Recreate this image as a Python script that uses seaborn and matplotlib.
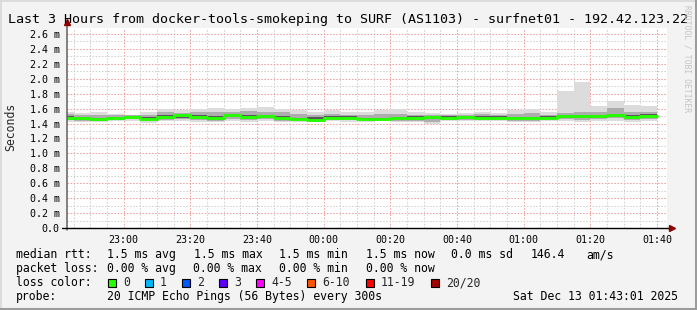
import matplotlib
matplotlib.use("Agg")
import matplotlib.pyplot as plt
from matplotlib.patches import Rectangle
from matplotlib.lines import Line2D
import pandas as pd
import seaborn as sns

# ---------------- data ----------------
title = "Last 3 Hours from docker-tools-smokeping to SURF (AS1103) - surfnet01 - 192.42.123.22"
# step edges, minutes relative to 23:00 (graph starts 22:43:01; 5-minute steps up to 01:40)
step_edges = [-16.98] + list(range(-15, 161, 5))

smoke_max = [1.56, 1.54, 1.55, 1.53, 1.52, 1.55, 1.59, 1.58, 1.60, 1.61, 1.59, 1.61,
             1.62, 1.60, 1.58, 1.56, 1.58, 1.56, 1.55, 1.58, 1.59, 1.55, 1.54, 1.53,
             1.54, 1.56, 1.54, 1.58, 1.60, 1.55, 1.84, 1.95, 1.64, 1.70, 1.65, 1.64]
smoke_p80 = [1.53, 1.52, 1.51, 1.51, 1.51, 1.52, 1.56, 1.54, 1.55, 1.55, 1.56, 1.57,
             1.56, 1.55, 1.53, 1.52, 1.53, 1.52, 1.51, 1.53, 1.53, 1.52, 1.52, 1.51,
             1.52, 1.53, 1.52, 1.53, 1.54, 1.52, 1.54, 1.55, 1.55, 1.61, 1.56, 1.56]
smoke_p60 = [1.50, 1.49, 1.48, 1.49, 1.50, 1.49, 1.51, 1.52, 1.51, 1.50, 1.53, 1.51,
             1.52, 1.50, 1.48, 1.49, 1.50, 1.50, 1.48, 1.48, 1.49, 1.50, 1.50, 1.50,
             1.50, 1.50, 1.50, 1.49, 1.49, 1.50, 1.52, 1.51, 1.52, 1.53, 1.52, 1.53]
median_rtt = [1.48, 1.48, 1.46, 1.48, 1.49, 1.46, 1.49, 1.51, 1.49, 1.48, 1.51, 1.49,
              1.50, 1.48, 1.46, 1.45, 1.48, 1.48, 1.46, 1.46, 1.47, 1.48, 1.49, 1.48,
              1.49, 1.48, 1.48, 1.47, 1.47, 1.48, 1.50, 1.50, 1.50, 1.52, 1.49, 1.50]
smoke_p40 = [1.46, 1.45, 1.44, 1.47, 1.47, 1.45, 1.47, 1.48, 1.47, 1.45, 1.49, 1.48,
             1.48, 1.46, 1.45, 1.44, 1.46, 1.46, 1.45, 1.45, 1.46, 1.45, 1.46, 1.46,
             1.47, 1.47, 1.47, 1.46, 1.46, 1.47, 1.48, 1.47, 1.48, 1.49, 1.47, 1.48]
smoke_p20 = [1.45, 1.44, 1.43, 1.45, 1.46, 1.44, 1.45, 1.46, 1.45, 1.44, 1.46, 1.45,
             1.46, 1.44, 1.44, 1.43, 1.45, 1.45, 1.44, 1.44, 1.44, 1.43, 1.42, 1.45,
             1.45, 1.45, 1.45, 1.44, 1.44, 1.45, 1.46, 1.45, 1.46, 1.47, 1.45, 1.46]
smoke_min = [1.42, 1.42, 1.42, 1.43, 1.44, 1.41, 1.43, 1.43, 1.42, 1.42, 1.43, 1.42,
             1.43, 1.42, 1.42, 1.42, 1.43, 1.42, 1.42, 1.43, 1.42, 1.42, 1.39, 1.43,
             1.43, 1.43, 1.43, 1.42, 1.42, 1.43, 1.43, 1.42, 1.43, 1.44, 1.42, 1.43]

x_major = [0, 20, 40, 60, 80, 100, 120, 140, 160]
x_labels = ["23:00", "23:20", "23:40", "00:00", "00:20", "00:40", "01:00", "01:20", "01:40"]
y_major = [0.0, 0.2, 0.4, 0.6, 0.8, 1.0, 1.2, 1.4, 1.6, 1.8, 2.0, 2.2, 2.4, 2.6]
y_labels = ["0.0", "0.2 m", "0.4 m", "0.6 m", "0.8 m", "1.0 m", "1.2 m", "1.4 m",
            "1.6 m", "1.8 m", "2.0 m", "2.2 m", "2.4 m", "2.6 m"]

legend_rows = [
    [(16, "median rtt:"), (107, "1.5 ms avg"), (194, "1.5 ms max"), (279, "1.5 ms min"),
     (366, "1.5 ms now"), (451, "0.0 ms sd"), (531, "146.4"), (586, "am/s")],
    [(16, "packet loss:"), (107, "0.00 % avg"), (193, "0.00 % max"), (279, "0.00 % min"),
     (366, "0.00 % now")],
    [(16, "loss color:")],
    [(16, "probe:"), (107, "20 ICMP Echo Pings (56 Bytes) every 300s"),
     (513, "Sat Dec 13 01:43:01 2025")],
]
loss_labels = ["0", "1", "2", "3", "4-5", "6-10", "11-19", "20/20"]
loss_colors = ["#26ff00", "#00b8ff", "#0059ff", "#5e00ff", "#ff00ff", "#ff5500", "#ff0000", "#a10000"]
loss_box_x = [108, 145, 182, 219, 256, 307, 366, 431]

# ---------------- figure ----------------
sns.set_style("white")
plt.rcParams["font.family"] = ["DejaVu Sans Mono"]

W, H = 697, 310
fig = plt.figure(figsize=(W / 100, H / 100), dpi=100, facecolor="#f3f3f3")
ax = fig.add_axes([67 / W, (H - 228) / H, 600 / W, 200 / H])
ax.set_facecolor("white")

def fx(px):
    return px / W

def fy(py):
    return 1 - py / H

df = pd.DataFrame({
    "t": step_edges,
    "smax": smoke_max + smoke_max[-1:],
    "p80": smoke_p80 + smoke_p80[-1:],
    "p60": smoke_p60 + smoke_p60[-1:],
    "median": median_rtt + median_rtt[-1:],
    "p40": smoke_p40 + smoke_p40[-1:],
    "p20": smoke_p20 + smoke_p20[-1:],
    "smin": smoke_min + smoke_min[-1:],
})

# smoke layers
ax.fill_between(df["t"], df["smin"], df["smax"], step="post", color="#dcdcdc", lw=0, zorder=2)
ax.fill_between(df["t"], df["p20"], df["p80"], step="post", color="#adadad", lw=0, zorder=3)
ax.fill_between(df["t"], df["p40"], df["p60"], step="post", color="#585858", lw=0, zorder=4)
# median line coloured by loss
sns.lineplot(data=df, x="t", y="median", drawstyle="steps-post", color="#26ff00",
             linewidth=2.1, ax=ax, legend=False, zorder=5)

ax.set_xlim(-16.98, 163.02)
ax.set_ylim(0, 2.68)

# grid
ax.set_xticks(x_major)
ax.set_xticklabels(x_labels)
ax.set_xticks(list(range(-15, 165, 5)), minor=True)
ax.set_yticks(y_major)
ax.set_yticklabels(y_labels)
ax.set_yticks([v / 10 for v in range(1, 27, 2)], minor=True)
ax.grid(which="minor", color="#d2d2d2", linestyle=(0, (1.5, 1.5)), linewidth=0.75, zorder=0)
ax.grid(which="major", color="#f2a0a0", linestyle=(0, (1.5, 1.5)), linewidth=0.75, zorder=1)
ax.set_axisbelow(True)

for s in ax.spines.values():
    s.set_visible(False)

ax.tick_params(axis="x", which="major", length=2.2, width=0.8, color="#e06060", direction="out",
               pad=2.5, labelsize=7.2, labelcolor="black")
ax.tick_params(axis="x", which="minor", length=1.5, width=0.6, color="#bbbbbb", direction="out")
ax.tick_params(axis="y", which="major", length=0, pad=5.2, labelsize=7.2, labelcolor="black")
ax.tick_params(axis="y", which="minor", length=0)
ax.set_xlabel("")
ax.set_ylabel("")

# axis lines with arrows
ax.plot([0, 0], [-0.01, 1.03], transform=ax.transAxes, color="#606060", lw=1.1,
        clip_on=False, zorder=6)
ax.plot([-0.008, 1.005], [0, 0], transform=ax.transAxes, color="black", lw=1.0,
        clip_on=False, zorder=6)
ax.plot([0], [1.03], transform=ax.transAxes, marker="^", markersize=4.5, color="#8b0000",
        clip_on=False, zorder=7)
ax.plot([1.008], [0], transform=ax.transAxes, marker=">", markersize=4.5, color="#8b0000",
        clip_on=False, zorder=7)

# title and labels
fig.text(fx(8), fy(23), title, ha="left", va="baseline", fontsize=9.6, color="black")
fig.text(fx(11), fy(127), "Seconds", rotation=90, ha="center", va="center", fontsize=8.3)
fig.text(fx(687.5), fy(5), "RRDTOOL / TOBI OETIKER", rotation=270, ha="center", va="top",
         fontsize=5.8, color="#c4c4c4")

# legend rows
baselines = [258, 272, 286, 300]
for row, base in zip(legend_rows, baselines):
    for x, txt in row:
        fig.text(fx(x), fy(base), txt, ha="left", va="baseline", fontsize=8.3, color="black")

for bx, col, lab in zip(loss_box_x, loss_colors, loss_labels):
    fig.patches.append(Rectangle((fx(bx), fy(286.5)), 8 / W, 8 / H, transform=fig.transFigure,
                                 facecolor=col, edgecolor="black", lw=0.8, figure=fig))
    fig.text(fx(bx + 15), fy(286), lab, ha="left", va="baseline", fontsize=8.3)

# 3D-style frame
fig.add_artist(Line2D([0, 1], [fy(0.5), fy(0.5)], transform=fig.transFigure, color="#d8d8d8", lw=1.2))
fig.add_artist(Line2D([fx(0.5), fx(0.5)], [0, 1], transform=fig.transFigure, color="#d8d8d8", lw=1.2))
fig.add_artist(Line2D([0, 1], [fy(309), fy(309)], transform=fig.transFigure, color="#9c9c9c", lw=2.2))
fig.add_artist(Line2D([fx(696), fx(696)], [0, 1], transform=fig.transFigure, color="#9c9c9c", lw=2.2))

fig.savefig("out.png", dpi=100, facecolor=fig.get_facecolor())
